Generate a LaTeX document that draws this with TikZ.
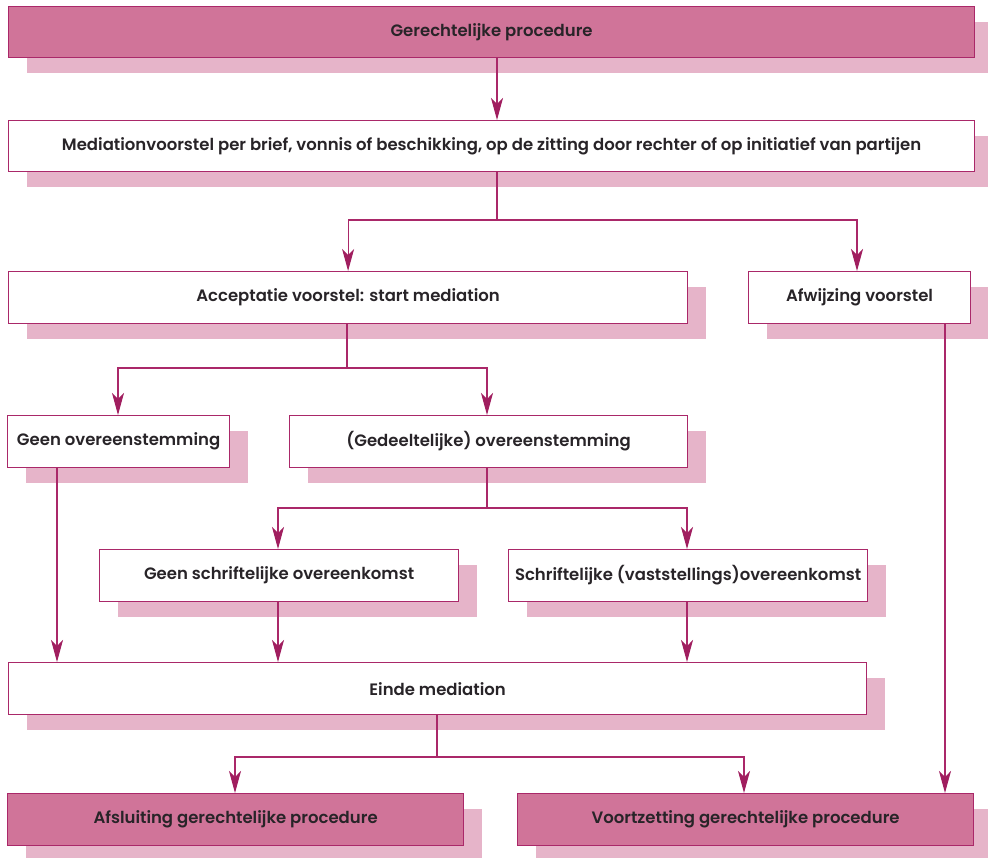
\documentclass[tikz,border=0pt]{standalone}
\usepackage{fontspec}
\setmainfont{Poppins}[BoldFont={Poppins SemiBold}]
\usetikzlibrary{shadows,arrows.meta}
\definecolor{pinkfill}{RGB}{208,116,153}
\definecolor{pinkshadow}{RGB}{230,180,201}
\definecolor{pinkline}{RGB}{170,40,105}
\definecolor{arrowcol}{RGB}{160,30,95}
\definecolor{txt}{RGB}{40,36,40}
\begin{document}
\begin{tikzpicture}[x=1pt,y=-1pt,
  box/.style={draw=pinkline, line width=1.2pt, fill=white, inner sep=0pt,
    anchor=north west, font=\bfseries\fontsize{16.5}{18}\selectfont, text=txt,
    general shadow={fill=pinkshadow, shadow xshift=18pt, shadow yshift=-15pt}},
  endbox/.style={box, fill=pinkfill},
  conn/.style={draw=pinkline, line width=1.1pt},
  arr/.style={conn, -{Stealth[length=22pt,width=12pt,inset=6pt,fill=arrowcol,color=arrowcol]}}]
\useasboundingbox (0,0) rectangle (988,857);
\node[endbox, minimum width=966pt, minimum height=51pt] (b1) at (8,6) {Gerechtelijke procedure};
\node[box, minimum width=966pt, minimum height=51pt] (b2) at (8,120) {Mediationvoorstel per brief, vonnis of beschikking, op de zitting door rechter of op initiatief van partijen};
\node[box, minimum width=679pt, minimum height=52pt] (b3) at (8,271) {Acceptatie voorstel: start mediation};
\node[box, minimum width=222pt, minimum height=52pt] (b4) at (748,271) {Afwijzing voorstel};
\node[box, minimum width=222pt, minimum height=52pt] (b5) at (7,415) {Geen overeenstemming};
\node[box, minimum width=398pt, minimum height=52pt] (b6) at (289,415) {(Gedeeltelijke) overeenstemming};
\node[box, minimum width=359pt, minimum height=52pt] (b7) at (99,549) {Geen schriftelijke overeenkomst};
\node[box, minimum width=359pt, minimum height=52pt] (b8) at (508,549) {Schriftelijke (vaststellings)overeenkomst};
\node[box, minimum width=858pt, minimum height=52pt] (b9) at (8,662) {Einde mediation};
\node[endbox, minimum width=456pt, minimum height=52pt] (b10) at (7,793) {Afsluiting gerechtelijke procedure};
\node[endbox, minimum width=456pt, minimum height=52pt] (b11) at (517,793) {Voortzetting gerechtelijke procedure};

\coordinate (j1) at (497,220);
\coordinate (j2) at (347,368);
\coordinate (j3) at (487,508);
\coordinate (j4) at (437,757);

\draw[arr] (b1.south -| j1) -- (b2.north -| j1);
\draw[conn] (b2.south -| j1) -- (j1);
\draw[arr] (j1) -| (b3.north);
\draw[arr] (j1) -| (857,0 |- b4.north);
\draw[conn] (b3.south -| j2) -- (j2);
\draw[arr] (j2) -| (118,0 |- b5.north);
\draw[arr] (j2) -| (b6.north -| j3);
\draw[conn] (b6.south -| j3) -- (j3);
\draw[arr] (j3) -| (278,0 |- b7.north);
\draw[arr] (j3) -| (687,0 |- b8.north);
\draw[arr] (57,0 |- b5.south) -- (57,0 |- b9.north);
\draw[arr] (278,0 |- b7.south) -- (278,0 |- b9.north);
\draw[arr] (687,0 |- b8.south) -- (687,0 |- b9.north);
\draw[conn] (b9.south -| j4) -- (j4);
\draw[arr] (j4) -| (235,0 |- b10.north);
\draw[arr] (j4) -| (744,0 |- b11.north);
\draw[arr] (945,0 |- b4.south) -- (945,0 |- b11.north);
\end{tikzpicture}
\end{document}
